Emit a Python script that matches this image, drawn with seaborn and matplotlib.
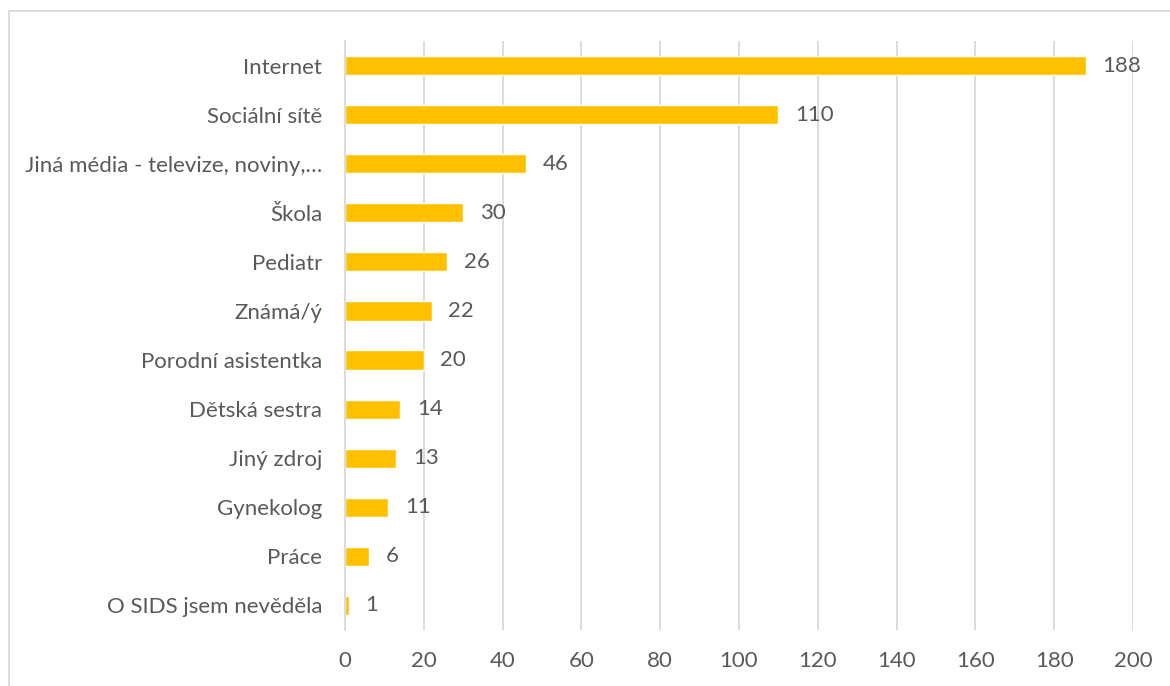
import matplotlib
matplotlib.use("Agg")
import matplotlib.pyplot as plt
import seaborn as sns
import pandas as pd
from matplotlib.patches import Rectangle

categories = [
    "Internet",
    "Sociální sítě",
    "Jiná média - televize, noviny,…",
    "Škola",
    "Pediatr",
    "Známá/ý",
    "Porodní asistentka",
    "Dětská sestra",
    "Jiný zdroj",
    "Gynekolog",
    "Práce",
    "O SIDS jsem nevěděla",
]
counts = [188, 110, 46, 30, 26, 22, 20, 14, 13, 11, 6, 1]
x_ticks = [0, 20, 40, 60, 80, 100, 120, 140, 160, 180, 200]

df = pd.DataFrame({"zdroj": categories, "pocet": counts})

sns.set_theme(style="white")
plt.rcParams["font.family"] = ["Lato", "DejaVu Sans"]

text_color = "#595959"
grid_color = "#D9D9D9"
bar_color = "#FFC000"
font_size = 16

fig = plt.figure(figsize=(11.7, 6.86), dpi=100)
fig.patch.set_facecolor("white")
ax = fig.add_axes([345 / 1170, 1 - 630 / 686, (1133 - 345) / 1170, (630 - 41) / 686])

sns.barplot(data=df, x="pocet", y="zdroj", orient="h", color=bar_color,
            saturation=1, width=0.39, ax=ax)

ax.set_xlim(0, 200)
ax.set_ylim(len(categories) - 0.5, -0.5)
ax.set_xticks(x_ticks)
ax.set_xticklabels([str(t) for t in x_ticks])
ax.set_xlabel("")
ax.set_ylabel("")

ax.xaxis.grid(True, color=grid_color, linewidth=1.3)
ax.set_axisbelow(True)
for side in ["top", "right", "bottom"]:
    ax.spines[side].set_visible(False)
ax.spines["left"].set_color(grid_color)
ax.spines["left"].set_linewidth(1.3)

ax.tick_params(axis="both", length=0, labelsize=font_size, labelcolor=text_color)
ax.tick_params(axis="x", pad=15)
ax.tick_params(axis="y", pad=16.5)

for i, v in enumerate(counts):
    ax.annotate(str(v), xy=(v, i), xytext=(12, 0), textcoords="offset points",
                va="center", ha="left", fontsize=font_size, color=text_color)

# chart area frame
fig.patches.append(Rectangle((9 / 1170, -0.1), 1.2, 1 - 11 / 686 + 0.1,
                             transform=fig.transFigure, fill=False,
                             edgecolor=grid_color, linewidth=1.3))

fig.savefig("out.png", dpi=100)
